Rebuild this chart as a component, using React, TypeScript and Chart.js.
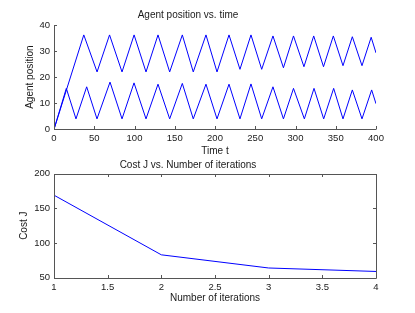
import React, { useEffect, useRef } from "react";
import { Chart, registerables } from "chart.js";

Chart.register(...registerables);

// ---- Data ----
const upperT = [0, 37, 53.5, 69, 84.5, 99.5, 114.3, 129.2, 143.7, 159.4, 173, 188.8, 202.5, 217.4, 231, 244.7, 258, 272, 285, 297.5, 310.5, 322.6, 334.8, 347, 359, 370.6, 382.6, 394, 400];
const upperY = [0, 36.2, 22, 36.2, 22, 36.2, 22, 36.2, 22, 36.2, 22, 36.2, 22, 36.2, 23, 36.2, 23, 35.8, 23.6, 35.8, 24, 35.8, 24, 35.8, 24.4, 35.5, 24.4, 35.3, 29.3];
const lowerT = [0, 15.3, 27.3, 40.6, 53.4, 69.6, 84.5, 99.4, 114.3, 129.2, 143.7, 159.4, 173, 188.8, 202.5, 217.4, 231, 244.7, 258, 272, 285, 297.5, 311, 323, 335, 347.4, 359, 370.6, 382.6, 394.6, 400];
const lowerY = [0, 15.7, 4, 16.3, 4, 18.1, 4, 17.8, 4, 17.3, 4, 17.6, 4, 17.3, 4, 17.3, 4, 17.4, 4, 16.3, 4, 15.7, 4, 15.7, 4, 15.7, 4, 15.1, 4, 15.1, 9.8];

const iterations = [1, 2, 3, 4];
const costJ = [169, 83, 64, 59];

const topTitle = "Agent position vs. time";
const topXLabel = "Time t";
const topYLabel = "Agent position";
const botTitle = "Cost J vs. Number of iterations";
const botXLabel = "Number of iterations";
const botYLabel = "Cost J";

const FONT = "'Liberation Sans', Arial, Helvetica, sans-serif";
const AXIS_COLOR = "#555555";
const TEXT_COLOR = "#1a1a1a";
const LINE_COLOR = "rgb(0,0,255)";

function makeAxesPlugin(box: boolean) {
  return {
    id: "matlabAxes",
    afterDraw(chart: any) {
      const { ctx, chartArea } = chart;
      const { left, right, top, bottom } = chartArea;
      const xs = chart.scales.x;
      const ys = chart.scales.y;
      const tl = 3;
      ctx.save();
      ctx.strokeStyle = AXIS_COLOR;
      ctx.lineWidth = 1;
      ctx.beginPath();
      ctx.moveTo(Math.round(left) + 0.5, Math.round(top));
      ctx.lineTo(Math.round(left) + 0.5, Math.round(bottom) + 0.5);
      ctx.lineTo(Math.round(right) + 0.5, Math.round(bottom) + 0.5);
      if (box) {
        ctx.lineTo(Math.round(right) + 0.5, Math.round(top) + 0.5);
        ctx.lineTo(Math.round(left) + 0.5, Math.round(top) + 0.5);
      }
      xs.ticks.forEach((t: any) => {
        const px = Math.round(xs.getPixelForValue(t.value)) + 0.5;
        ctx.moveTo(px, Math.round(bottom));
        ctx.lineTo(px, Math.round(bottom) - tl);
        if (box) {
          ctx.moveTo(px, Math.round(top));
          ctx.lineTo(px, Math.round(top) + tl);
        }
      });
      ys.ticks.forEach((t: any) => {
        const py = Math.round(ys.getPixelForValue(t.value)) + 0.5;
        ctx.moveTo(Math.round(left), py);
        ctx.lineTo(Math.round(left) + tl, py);
        if (box) {
          ctx.moveTo(Math.round(right), py);
          ctx.lineTo(Math.round(right) - tl, py);
        }
      });
      ctx.stroke();
      ctx.restore();
    },
  };
}

function makeOptions(
  title: string,
  xLabel: string,
  yLabel: string,
  xMin: number,
  xMax: number,
  xStep: number,
  yMin: number,
  yMax: number,
  yStep: number,
  titlePad: { top: number; bottom: number },
  xHeight: number,
  yTitlePadTop: number,
  xTitlePadBottom: number,
  xTickPad: number
): any {
  return {
    responsive: false,
    animation: false,
    devicePixelRatio: 1,
    layout: { padding: { left: 0, right: 39, top: 0, bottom: 0 } },
    plugins: {
      legend: { display: false },
      tooltip: { enabled: false },
      title: {
        display: true,
        text: title,
        color: TEXT_COLOR,
        font: { family: FONT, size: 10, weight: "normal", lineHeight: 1.2 },
        padding: titlePad,
      },
    },
    elements: { point: { radius: 0 }, line: { tension: 0 } },
    scales: {
      x: {
        type: "linear",
        min: xMin,
        max: xMax,
        grid: { display: false, drawTicks: false },
        border: { display: false },
        ticks: {
          stepSize: xStep,
          autoSkip: false,
          maxRotation: 0,
          padding: xTickPad,
          color: TEXT_COLOR,
          font: { family: FONT, size: 9.5 },
          callback: (v: any) => String(Number(v)),
        },
        title: {
          display: true,
          text: xLabel,
          color: TEXT_COLOR,
          font: { family: FONT, size: 10, lineHeight: 1.2 },
          padding: { top: 0, bottom: xTitlePadBottom },
        },
        afterFit: (s: any) => {
          s.height = xHeight;
        },
      },
      y: {
        type: "linear",
        min: yMin,
        max: yMax,
        grid: { display: false, drawTicks: false },
        border: { display: false },
        ticks: {
          stepSize: yStep,
          autoSkip: false,
          padding: 4,
          color: TEXT_COLOR,
          font: { family: FONT, size: 9.5 },
          callback: (v: any) => String(Number(v)),
        },
        title: {
          display: true,
          text: yLabel,
          color: TEXT_COLOR,
          font: { family: FONT, size: 10, lineHeight: 1.2 },
          padding: { top: yTitlePadTop, bottom: 0 },
        },
        afterFit: (s: any) => {
          s.width = 54;
        },
      },
    },
  };
}

export default function App() {
  const topRef = useRef<HTMLCanvasElement | null>(null);
  const botRef = useRef<HTMLCanvasElement | null>(null);

  useEffect(() => {
    const topChart = new Chart(topRef.current as HTMLCanvasElement, {
      type: "line",
      data: {
        datasets: [
          {
            data: upperT.map((t, i) => ({ x: t, y: upperY[i] })),
            borderColor: LINE_COLOR,
            borderWidth: 1,
            pointRadius: 0,
          },
          {
            data: lowerT.map((t, i) => ({ x: t, y: lowerY[i] })),
            borderColor: LINE_COLOR,
            borderWidth: 1,
            pointRadius: 0,
          },
        ],
      },
      options: makeOptions(topTitle, topXLabel, topYLabel, 0, 400, 50, 0, 40, 10, { top: 9, bottom: 4 }, 28.7, 24, 1, 3.5),
      plugins: [makeAxesPlugin(false)],
    } as any);

    const botChart = new Chart(botRef.current as HTMLCanvasElement, {
      type: "line",
      data: {
        datasets: [
          {
            data: iterations.map((x, i) => ({ x, y: costJ[i] })),
            borderColor: LINE_COLOR,
            borderWidth: 1,
            pointRadius: 0,
          },
        ],
      },
      options: makeOptions(botTitle, botXLabel, botYLabel, 1, 4, 0.5, 50, 200, 50, { top: 7, bottom: 2.7 }, 35.3, 18, 9, 4),
      plugins: [makeAxesPlugin(true)],
    } as any);

    return () => {
      topChart.destroy();
      botChart.destroy();
    };
  }, []);

  return (
    <div
      style={{
        position: "fixed",
        left: 0,
        top: 0,
        width: 415,
        height: 313,
        background: "#ffffff",
      }}
    >
      <canvas
        ref={topRef}
        width={415}
        height={158}
        style={{ position: "absolute", left: 0, top: 0, width: 415, height: 158 }}
      />
      <canvas
        ref={botRef}
        width={415}
        height={161}
        style={{ position: "absolute", left: 0, top: 152, width: 415, height: 161 }}
      />
    </div>
  );
}
